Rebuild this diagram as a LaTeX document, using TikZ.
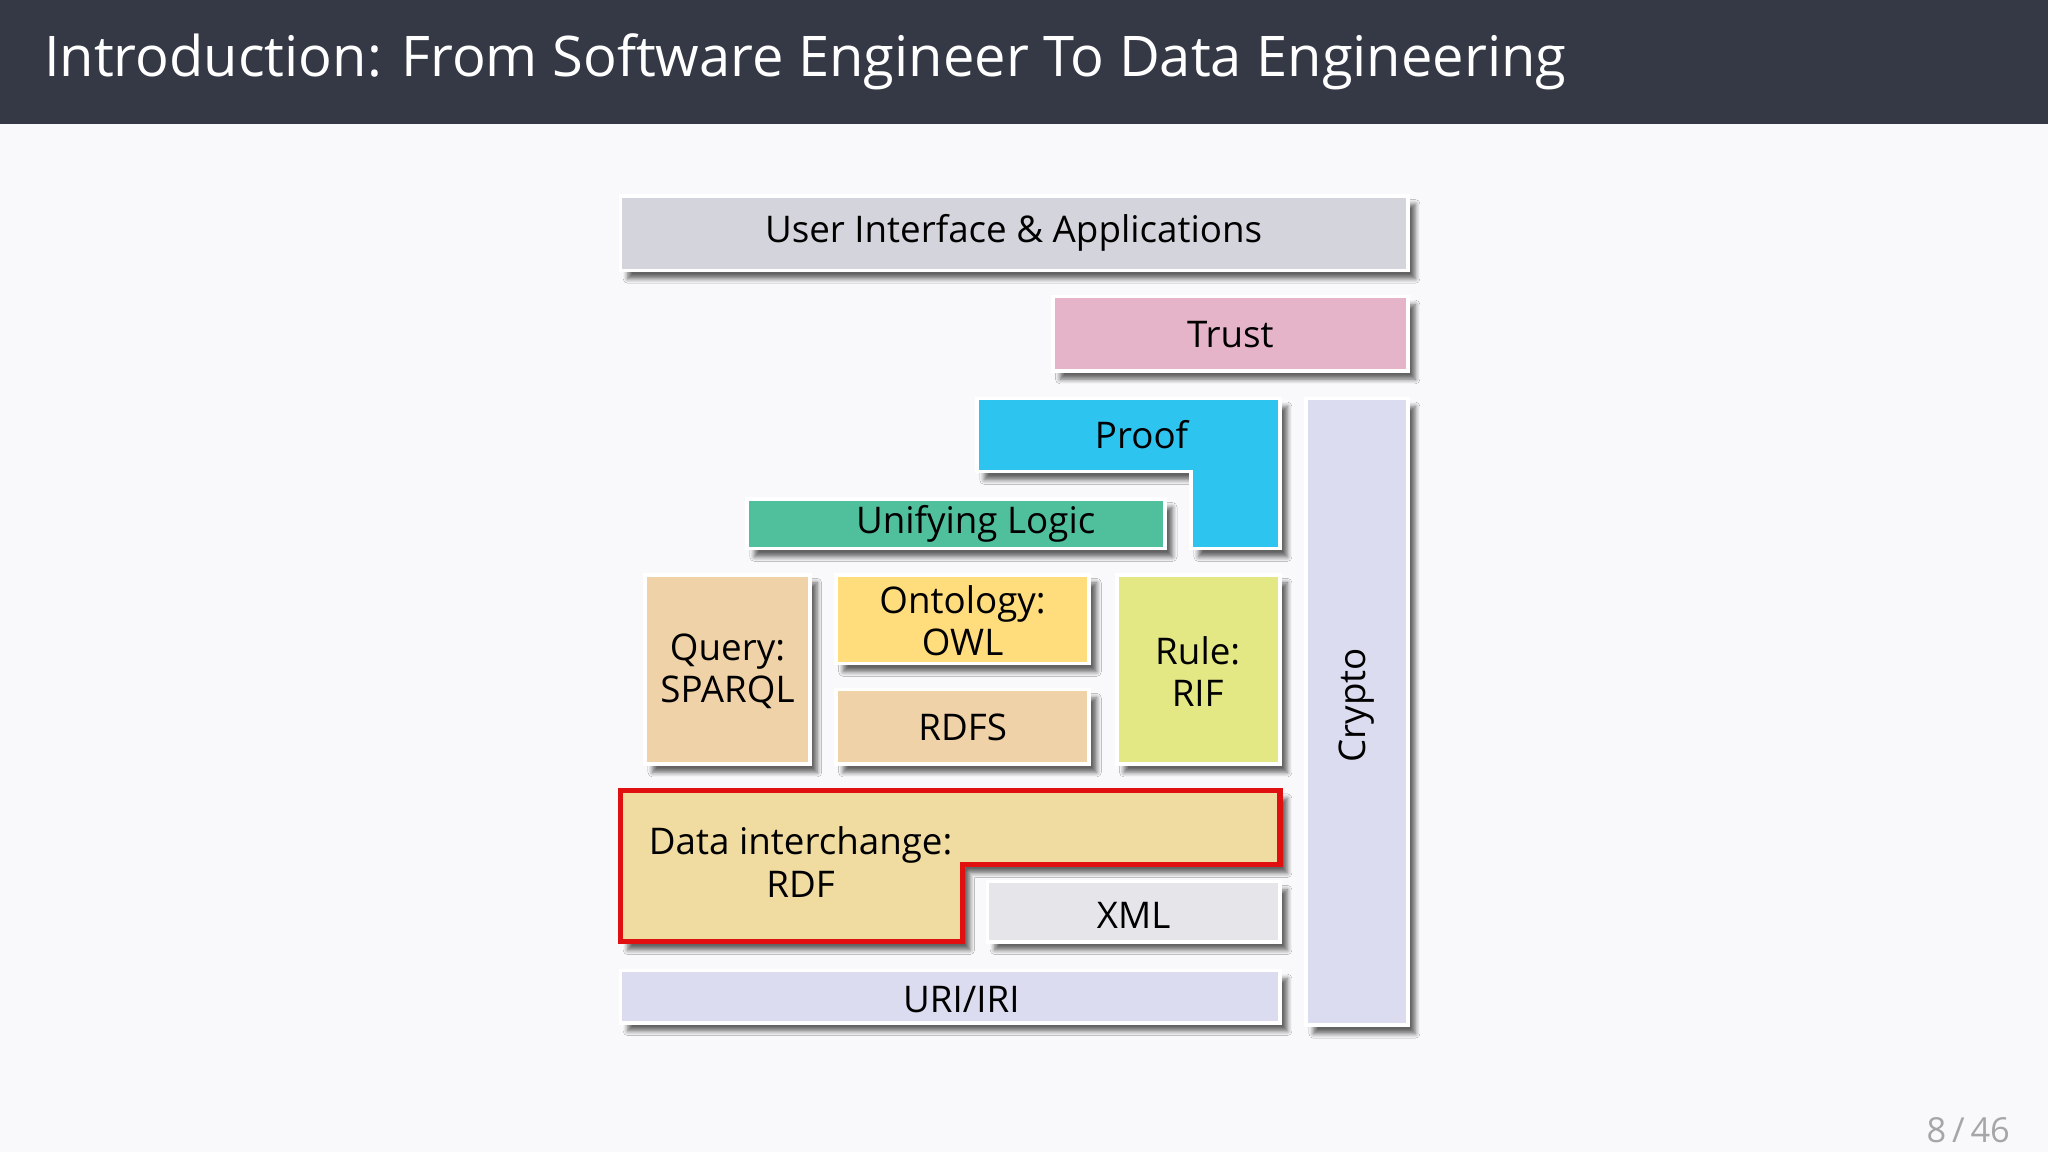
\documentclass[tikz,border=0pt]{standalone}
\usepackage{fontspec}
\setmainfont{Open Sans}
\usetikzlibrary{shadows,shadows.blur}
\definecolor{bg}{HTML}{F9F9FB}
\definecolor{hdr}{HTML}{353945}
\definecolor{cgray}{HTML}{D4D4DC}
\definecolor{cpink}{HTML}{E6B4C8}
\definecolor{cblue}{HTML}{2EC4F0}
\definecolor{clav}{HTML}{DCDCF0}
\definecolor{cgreen}{HTML}{50C09C}
\definecolor{ctan}{HTML}{F0D2A8}
\definecolor{cyel}{HTML}{FFDC7C}
\definecolor{clime}{HTML}{E4E884}
\definecolor{crdf}{HTML}{F0DCA0}
\definecolor{cxml}{HTML}{E6E6EA}
\definecolor{cred}{HTML}{E01010}
\begin{document}
\begin{tikzpicture}[x=0.01cm,y=-0.01cm,
  lbl/.style={font=\fontsize{8}{9.2}\selectfont,text=black,align=center},
  shad/.style={blur shadow={shadow xshift=1.6pt,shadow yshift=-1.8pt,shadow opacity=60,shadow blur steps=6,shadow blur radius=1pt}},
  blk/.style={draw=white,line width=0.8pt,shad}]
\fill[bg] (0,0) rectangle (1568,882);
\useasboundingbox (0,0) rectangle (1568,882);
\fill[hdr] (0,0) rectangle (1568,95);
\node[anchor=west,text=white,font=\fontsize{12.2}{14}\selectfont,inner sep=0pt] (title) at (33,47) {Introduction: From Software Engineer To Data Engineering};
% boxes
\path[blk,fill=cgray] (475,150) rectangle (1078,207);
\node[lbl] (ui) at (776,178) {User Interface \& Applications};
\path[blk,fill=cpink] (806,227) rectangle (1078,284);
\node[lbl] (trust) at (942,256) {Trust};
\path[blk,fill=clav] (1000,305) rectangle (1078,785);
\node[lbl,rotate=90] (crypto) at (1039,540) {Crypto};
\path[blk,fill=cblue] (748,305) -- (980,305) -- (980,420) -- (912,420) -- (912,361) -- (748,361) -- cycle;
\node[lbl] (proof) at (874,333) {Proof};
\path[blk,fill=cgreen] (572,382) rectangle (892,420);
\node[lbl] (logic) at (747,401) {Unifying Logic};
\path[blk,fill=ctan] (494,440) rectangle (620,585);
\node[lbl] (query) at (557,514) {Query:\\SPARQL};
\path[blk,fill=cyel] (640,440) rectangle (834,508);
\node[lbl] (owl) at (737,475) {Ontology:\\OWL};
\path[blk,fill=ctan] (640,528) rectangle (834,585);
\node[lbl] (rdfs) at (737,557) {RDFS};
\path[blk,fill=clime] (855,440) rectangle (980,585);
\node[lbl] (rule) at (917,514) {Rule:\\RIF};
\path[shad,fill=crdf,draw=cred,line width=1.1pt] (475,605) -- (980,605) -- (980,662) -- (737,662) -- (737,721) -- (475,721) -- cycle;
\node[lbl] (rdf) at (613,660) {Data interchange:\\RDF};
\path[blk,fill=cxml] (756,675) rectangle (980,721);
\node[lbl] (xml) at (868,701) {XML};
\path[blk,fill=clav] (475,743) rectangle (980,783);
\node[lbl] (uri) at (736,765) {URI/IRI};
\node[text=gray!70,font=\fontsize{7.5}{9}\selectfont] (page) at (1507,865) {8\,/\,46};
\end{tikzpicture}
\end{document}
